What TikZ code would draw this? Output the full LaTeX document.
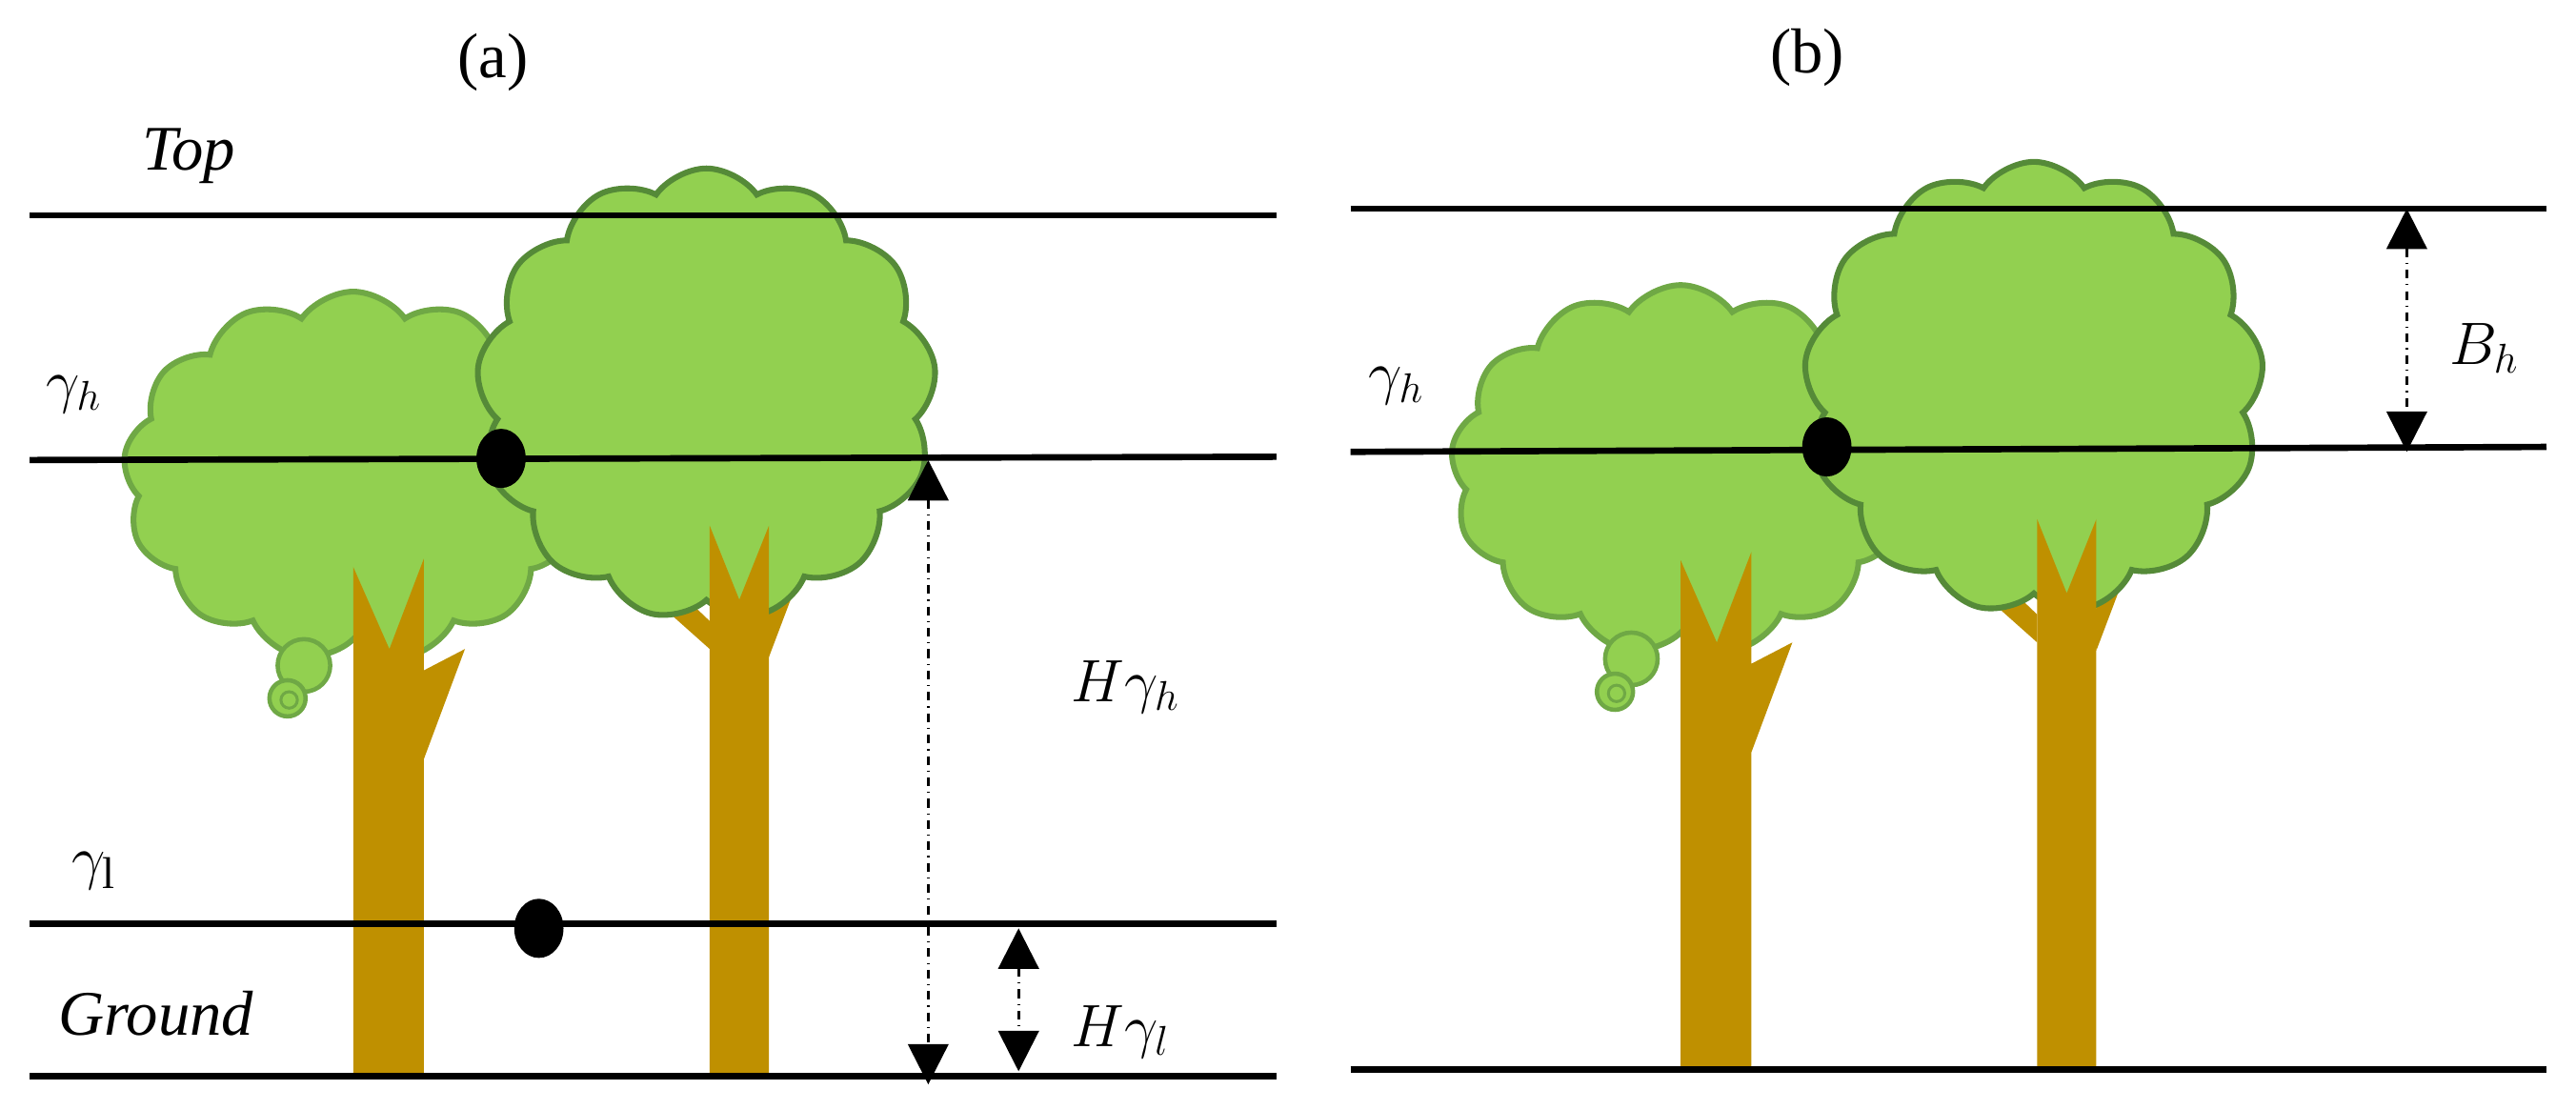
\documentclass[tikz,border=0pt]{standalone}
\usepackage{fontspec}
\setmainfont{Liberation Serif}
\usetikzlibrary{shapes.symbols,shapes.geometric,arrows.meta}
\definecolor{leaf}{HTML}{92D050}
\definecolor{leafA}{HTML}{6FA845}
\definecolor{leafB}{HTML}{558A38}
\definecolor{wood}{HTML}{BF9000}
\tikzset{
 lvl/.style={line width=2.2pt},
 crown/.style={cloud,cloud puffs=13,cloud puff arc=110,fill=leaf,line width=2pt,inner sep=0pt},
 dotnode/.style={ellipse,fill=black,minimum width=30*0.02cm,minimum height=36*0.02cm,inner sep=0pt},
 lab/.style={font=\fontsize{22}{26}\selectfont,inner sep=0pt},
 meas/.style={dash dot,line width=1pt,{Triangle[length=14pt,width=14pt]}-{Triangle[length=14pt,width=14pt]}},
}
\begin{document}
\begin{tikzpicture}[x=0.02cm,y=-0.02cm]
\useasboundingbox (0,0) rectangle (1568,675);
\newcommand\drawtrees[2]{%
 \begin{scope}[shift={(#1,#2)}]
 \node[crown,draw=leafA,minimum width=280*0.02cm,minimum height=225*0.02cm] (lc) at (215,290) {};
 \draw[leafA,fill=leaf,line width=1.5pt] (185,405) circle (16);
 \draw[leafA,fill=leaf,line width=1.5pt] (175,425) circle (11);
 \draw[leafA,line width=1pt] (176,426) circle (5);
 \fill[wood] (215,655)--(215,345)--(237,395)--(258,340)--(258,408)--(283,395)--(258,462)--(258,655)--cycle;
 \fill[wood] (432,395)--(350,322)--(363,312)--(432,378)--cycle;
 \fill[wood] (466,380)--(490,305)--(502,310)--(468,400)--cycle;
 \node[crown,draw=leafB,minimum width=280*0.02cm,minimum height=275*0.02cm] (rc) at (430,240) {};
 \fill[wood] (432,655)--(432,320)--(450,365)--(468,320)--(468,655)--cycle;
 \end{scope}}
% panel a
\drawtrees{0}{0}
\node[lab] (ta) at (300,38) {(a)};
\node[lab] (top) at (115,95) {\itshape Top};
\node[lab] (gh) at (45,240) {$\gamma_h$};
\node[lab] (gl) at (57,530) {$\gamma_{\mathrm{l}}$};
\node[lab] (gr) at (95,617) {\itshape Ground};
\coordinate (a1) at (18,131); \coordinate (a2) at (777,131);
\coordinate (b1) at (18,280); \coordinate (b2) at (777,278);
\coordinate (c1) at (18,562); \coordinate (c2) at (777,562);
\coordinate (d1) at (18,655); \coordinate (d2) at (777,655);
\draw[lvl] (a1)--(a2); \draw[lvl] (b1)--(b2); \draw[lvl] (c1)--(c2); \draw[lvl] (d1)--(d2);
\node[dotnode] (p1) at (305,279) {};
\node[dotnode] (p2) at (328,565) {};
\coordinate (m1) at (565,280); \coordinate (m2) at (565,660);
\draw[meas] (m1)--(m2);
\coordinate (n1) at (620,565); \coordinate (n2) at (620,652);
\draw[meas] (n1)--(n2);
\node[lab] (hgh) at (685,418) {$H\gamma_h$};
\node[lab] (hgl) at (682,628) {$H\gamma_l$};
% panel b
\drawtrees{808}{-4}
\node[lab] (tb) at (1100,35) {(b)};
\node[lab] (gh2) at (850,235) {$\gamma_h$};
\coordinate (e1) at (822,127); \coordinate (e2) at (1550,127);
\coordinate (f1) at (822,275); \coordinate (f2) at (1550,272);
\coordinate (g1) at (822,651); \coordinate (g2) at (1550,651);
\draw[lvl] (e1)--(e2); \draw[lvl] (f1)--(f2); \draw[lvl] (g1)--(g2);
\node[dotnode] (p3) at (1112,272) {};
\coordinate (k1) at (1465,127); \coordinate (k2) at (1465,275);
\draw[meas] (k1)--(k2);
\node[lab] (bh) at (1512,212) {$B_h$};
\end{tikzpicture}
\end{document}
